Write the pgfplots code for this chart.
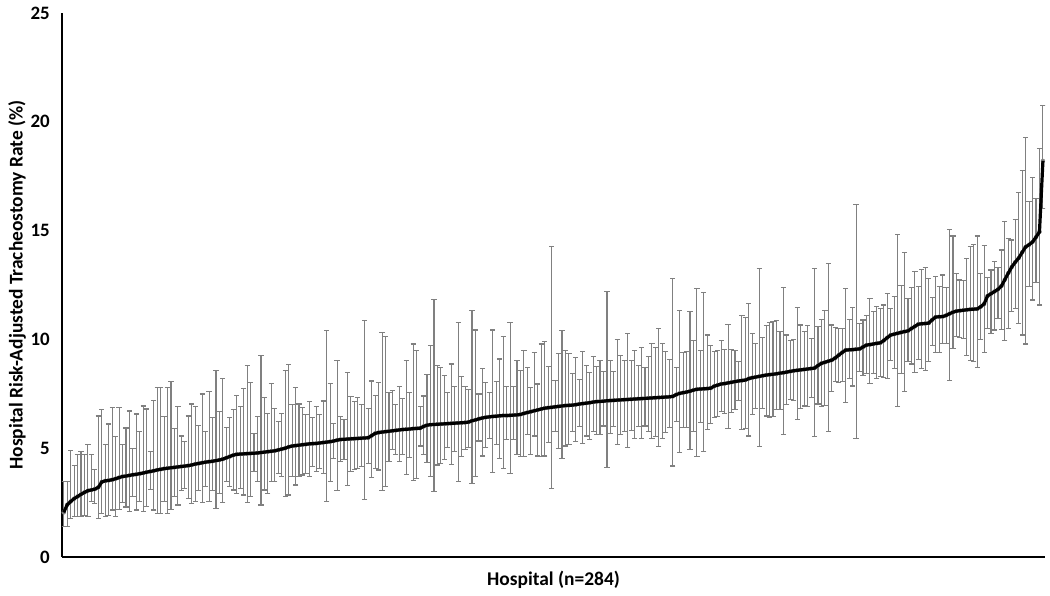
\documentclass[border=0pt]{standalone}
\usepackage{fontspec}
\setmainfont{Carlito}
\usepackage{pgfplots}
\usepackage{pgfplotstable}
\pgfplotsset{compat=1.18}
\pgfplotstableread{
i m lo hi
1 2.05 1.39 3.46
2 2.40 1.42 3.46
3 2.55 1.78 4.90
4 2.68 1.85 4.20
5 2.78 1.85 4.69
6 2.88 1.85 4.84
7 2.97 1.90 4.73
8 3.05 1.85 5.15
9 3.08 2.54 4.69
10 3.12 2.45 4.04
11 3.20 1.75 6.48
12 3.45 2.01 6.76
13 3.50 1.85 5.15
14 3.52 1.90 6.11
15 3.55 2.16 6.86
16 3.60 1.85 5.53
17 3.65 2.20 6.89
18 3.70 2.50 5.15
19 3.72 2.30 5.93
20 3.75 2.10 6.71
21 3.78 2.77 5.00
22 3.80 2.16 6.57
23 3.83 2.54 5.76
24 3.86 2.10 6.94
25 3.90 2.31 6.80
26 3.93 3.10 4.84
27 3.96 2.16 7.21
28 4.00 2.01 7.77
29 4.03 2.01 7.77
30 4.06 2.54 6.45
31 4.08 2.01 7.77
32 4.10 2.20 8.06
33 4.12 2.77 5.91
34 4.14 2.39 6.91
35 4.16 3.05 5.56
36 4.18 3.16 5.30
37 4.20 2.70 6.48
38 4.23 2.47 7.03
39 4.27 2.54 6.91
40 4.30 3.05 6.03
41 4.33 2.50 7.49
42 4.36 3.26 5.76
43 4.38 2.54 7.60
44 4.40 3.05 6.42
45 4.43 2.24 8.56
46 4.46 2.93 6.68
47 4.50 2.50 8.21
48 4.56 3.46 5.94
49 4.62 3.23 6.42
50 4.68 3.08 6.79
51 4.72 2.93 7.44
52 4.73 3.16 6.91
53 4.74 2.85 7.75
54 4.75 2.50 8.82
55 4.76 2.80 8.01
56 4.77 3.92 5.68
57 4.78 3.46 6.45
58 4.80 2.39 9.24
59 4.82 3.08 7.32
60 4.84 2.93 6.60
61 4.86 3.46 7.98
62 4.88 3.46 6.83
63 4.92 3.85 6.22
64 4.96 3.69 6.60
65 5.00 2.80 8.56
66 5.06 2.85 8.85
67 5.10 3.69 6.99
68 5.12 3.31 7.78
69 5.14 3.69 7.03
70 5.16 3.77 6.88
71 5.18 3.85 6.53
72 5.20 3.72 7.14
73 5.21 4.15 6.42
74 5.22 3.92 6.91
75 5.24 4.08 6.53
76 5.26 3.85 7.17
77 5.28 2.57 10.40
78 5.30 3.46 7.98
79 5.33 4.54 6.14
80 5.37 3.05 9.05
81 5.40 4.38 6.45
82 5.41 4.46 6.33
83 5.42 3.28 8.47
84 5.43 3.92 7.37
85 5.44 4.03 7.14
86 5.45 4.08 7.32
87 5.46 4.15 6.99
88 5.47 2.65 10.85
89 5.48 4.31 6.83
90 5.58 3.66 8.09
91 5.68 4.08 7.44
92 5.72 4.00 8.01
93 5.74 3.05 10.31
94 5.76 3.23 10.12
95 5.78 4.38 7.55
96 5.80 4.92 7.67
97 5.82 4.73 7.02
98 5.84 4.38 7.83
99 5.86 4.73 7.29
100 5.87 3.81 9.02
101 5.88 4.58 7.57
102 5.90 3.51 9.79
103 5.91 3.62 9.51
104 5.92 5.10 6.91
105 6.00 4.73 7.40
106 6.06 4.33 8.40
107 6.08 3.72 9.74
108 6.09 3.03 11.84
109 6.10 4.23 8.78
110 6.11 4.31 8.72
111 6.12 4.46 8.36
112 6.13 5.04 7.55
113 6.14 4.27 8.87
114 6.15 4.84 7.83
115 6.16 3.49 10.77
116 6.17 4.61 8.29
117 6.18 4.95 7.83
118 6.20 5.04 7.71
119 6.26 3.39 11.32
120 6.30 3.72 10.43
121 6.35 5.33 7.49
122 6.39 4.64 8.67
123 6.42 5.04 8.03
124 6.44 5.45 7.55
125 6.46 3.89 10.43
126 6.47 5.15 8.06
127 6.49 4.54 9.10
128 6.50 4.08 10.12
129 6.50 5.38 7.83
130 6.51 3.85 10.77
131 6.52 5.38 7.83
132 6.53 4.69 9.05
133 6.55 4.61 8.59
134 6.60 4.61 9.47
135 6.64 5.65 8.72
136 6.68 4.69 7.78
137 6.72 5.56 9.41
138 6.76 4.64 7.95
139 6.80 4.61 9.79
140 6.84 4.64 9.89
141 6.86 5.25 8.75
142 6.88 3.13 14.26
143 6.90 5.76 8.10
144 6.92 5.00 9.36
145 6.94 4.54 10.40
146 6.96 5.10 9.48
147 6.97 5.15 9.36
148 6.98 5.76 8.44
149 7.00 5.30 9.16
150 7.03 5.99 8.17
151 7.05 5.23 9.43
152 7.07 5.56 8.82
153 7.09 5.41 8.49
154 7.12 5.76 9.20
155 7.14 5.61 8.75
156 7.15 5.61 9.05
157 7.16 6.02 8.52
158 7.18 4.12 12.22
159 7.19 5.68 9.05
160 7.20 5.99 8.52
161 7.21 5.15 10.00
162 7.22 5.61 9.24
163 7.23 5.76 9.01
164 7.24 5.04 10.28
165 7.25 5.80 9.01
166 7.26 5.45 9.48
167 7.27 5.99 8.78
168 7.28 5.45 9.64
169 7.29 6.02 8.72
170 7.30 5.76 9.20
171 7.31 5.45 9.82
172 7.32 5.53 9.62
173 7.33 5.07 10.51
174 7.34 5.45 9.82
175 7.35 5.71 9.43
176 7.36 5.96 9.09
177 7.38 4.18 12.81
178 7.46 6.22 8.72
179 7.52 4.79 11.32
180 7.55 5.96 9.39
181 7.58 5.96 9.43
182 7.62 4.95 11.27
183 7.67 5.76 9.94
184 7.71 4.61 12.35
185 7.72 6.17 9.51
186 7.73 4.84 12.15
187 7.74 5.84 10.20
188 7.76 6.14 9.70
189 7.85 6.42 9.43
190 7.90 6.45 9.48
191 7.95 6.68 9.94
192 7.97 6.60 9.54
193 8.00 5.91 10.69
194 8.03 6.63 9.54
195 8.06 6.76 9.47
196 8.09 7.18 8.98
197 8.11 5.84 11.08
198 8.13 5.91 11.02
199 8.20 5.56 11.63
200 8.24 6.53 10.28
201 8.27 6.83 9.82
202 8.30 5.07 13.24
203 8.33 6.83 10.08
204 8.36 6.48 10.63
205 8.38 6.42 10.79
206 8.40 6.45 10.81
207 8.42 6.76 10.85
208 8.45 6.79 10.35
209 8.47 5.61 12.38
210 8.50 6.99 10.20
211 8.53 7.25 9.97
212 8.56 7.21 10.00
213 8.58 6.33 11.46
214 8.60 6.83 10.66
215 8.62 6.94 10.35
216 8.64 6.91 10.62
217 8.66 7.34 10.05
218 8.68 5.53 13.27
219 8.80 7.03 10.58
220 8.90 6.91 10.92
221 8.95 6.95 11.31
222 9.00 5.76 13.50
223 9.05 7.60 10.66
224 9.15 8.06 10.56
225 9.28 8.01 10.51
226 9.40 8.06 10.51
227 9.51 7.09 12.35
228 9.52 8.21 10.92
229 9.53 7.86 11.47
230 9.55 5.45 16.21
231 9.56 8.52 10.74
232 9.65 8.36 10.89
233 9.74 8.44 11.09
234 9.76 7.98 11.89
235 9.79 8.44 11.27
236 9.82 8.21 11.53
237 9.84 8.29 11.43
238 9.95 8.26 11.58
239 10.08 8.21 12.12
240 10.20 9.05 11.43
241 10.24 8.67 11.99
242 10.28 6.91 14.84
243 10.32 8.44 12.47
244 10.36 7.60 13.98
245 10.39 8.98 11.89
246 10.50 8.87 12.38
247 10.60 8.47 13.11
248 10.70 9.09 12.45
249 10.72 8.67 13.22
250 10.73 8.59 13.31
251 10.75 8.98 12.81
252 10.90 9.74 11.92
253 11.03 9.39 12.88
254 11.04 9.39 12.42
255 11.05 9.82 12.96
256 11.10 9.82 12.39
257 11.18 8.13 15.03
258 11.25 9.59 14.75
259 11.30 10.12 13.04
260 11.32 10.08 12.73
261 11.34 10.05 12.70
262 11.36 9.24 13.73
263 11.38 9.02 14.26
264 11.39 8.98 14.38
265 11.40 8.72 14.75
266 11.50 10.00 13.04
267 11.63 9.39 14.31
268 12.00 10.51 12.85
269 12.10 10.28 13.19
270 12.20 10.43 13.57
271 12.30 10.97 13.31
272 12.45 10.46 14.11
273 12.75 9.94 15.41
274 13.05 10.51 14.65
275 13.33 11.27 14.57
276 13.55 11.43 15.52
277 13.74 10.74 16.74
278 14.00 10.20 17.75
279 14.25 9.79 19.27
280 14.35 12.45 16.33
281 14.48 11.81 17.45
282 14.70 12.61 16.48
283 14.94 11.58 18.78
284 18.20 16.02 20.74
}\data
\begin{document}
\begin{tikzpicture}
\path[use as bounding box] (-62bp,-39bp) rectangle (988bp,557bp);
\begin{axis}[
  at={(0,0)}, anchor=south west,
  scale only axis, width=983bp, height=544bp,
  xmin=0.5, xmax=284.6, ymin=0, ymax=25,
  clip mode=individual,
  axis x line*=bottom, axis y line*=left,
  axis line style={line width=2.2bp, black, -},
  xtick=\empty, ytick={0,5,10,15,20,25},
  major tick length=0pt,
  /pgf/number format/assume math mode=true,
  tick label style={font=\fontsize{19}{20}\selectfont\bfseries},
  yticklabel style={anchor=east, inner sep=0pt, xshift=-12bp},
  xlabel={Hospital (n=284)},
  ylabel={Hospital Risk-Adjusted Tracheostomy Rate (\%)},
  every axis x label/.style={at={(axis description cs:0.5,0)}, anchor=center, yshift=-23bp, font=\fontsize{19.5}{20}\selectfont\bfseries},
  every axis y label/.style={at={(axis description cs:-0.0458,0.5)}, anchor=center, rotate=90, font=\fontsize{19.5}{20}\selectfont\bfseries},
]
\addplot[black!50, only marks, mark=none, forget plot,
  error bars/.cd, y dir=both, y explicit, error mark=-,
  error bar style={line width=1.1bp, black!50},
  error mark options={rotate=90, line width=1.1bp, mark size=2.6bp, black!50}]
  table[x=i, y=m, y error plus expr=\thisrow{hi}-\thisrow{m}, y error minus expr=\thisrow{m}-\thisrow{lo}] {\data};
\addplot[black, line width=3.2bp, mark=none] table[x=i, y=m] {\data};
\end{axis}
\end{tikzpicture}
\end{document}
